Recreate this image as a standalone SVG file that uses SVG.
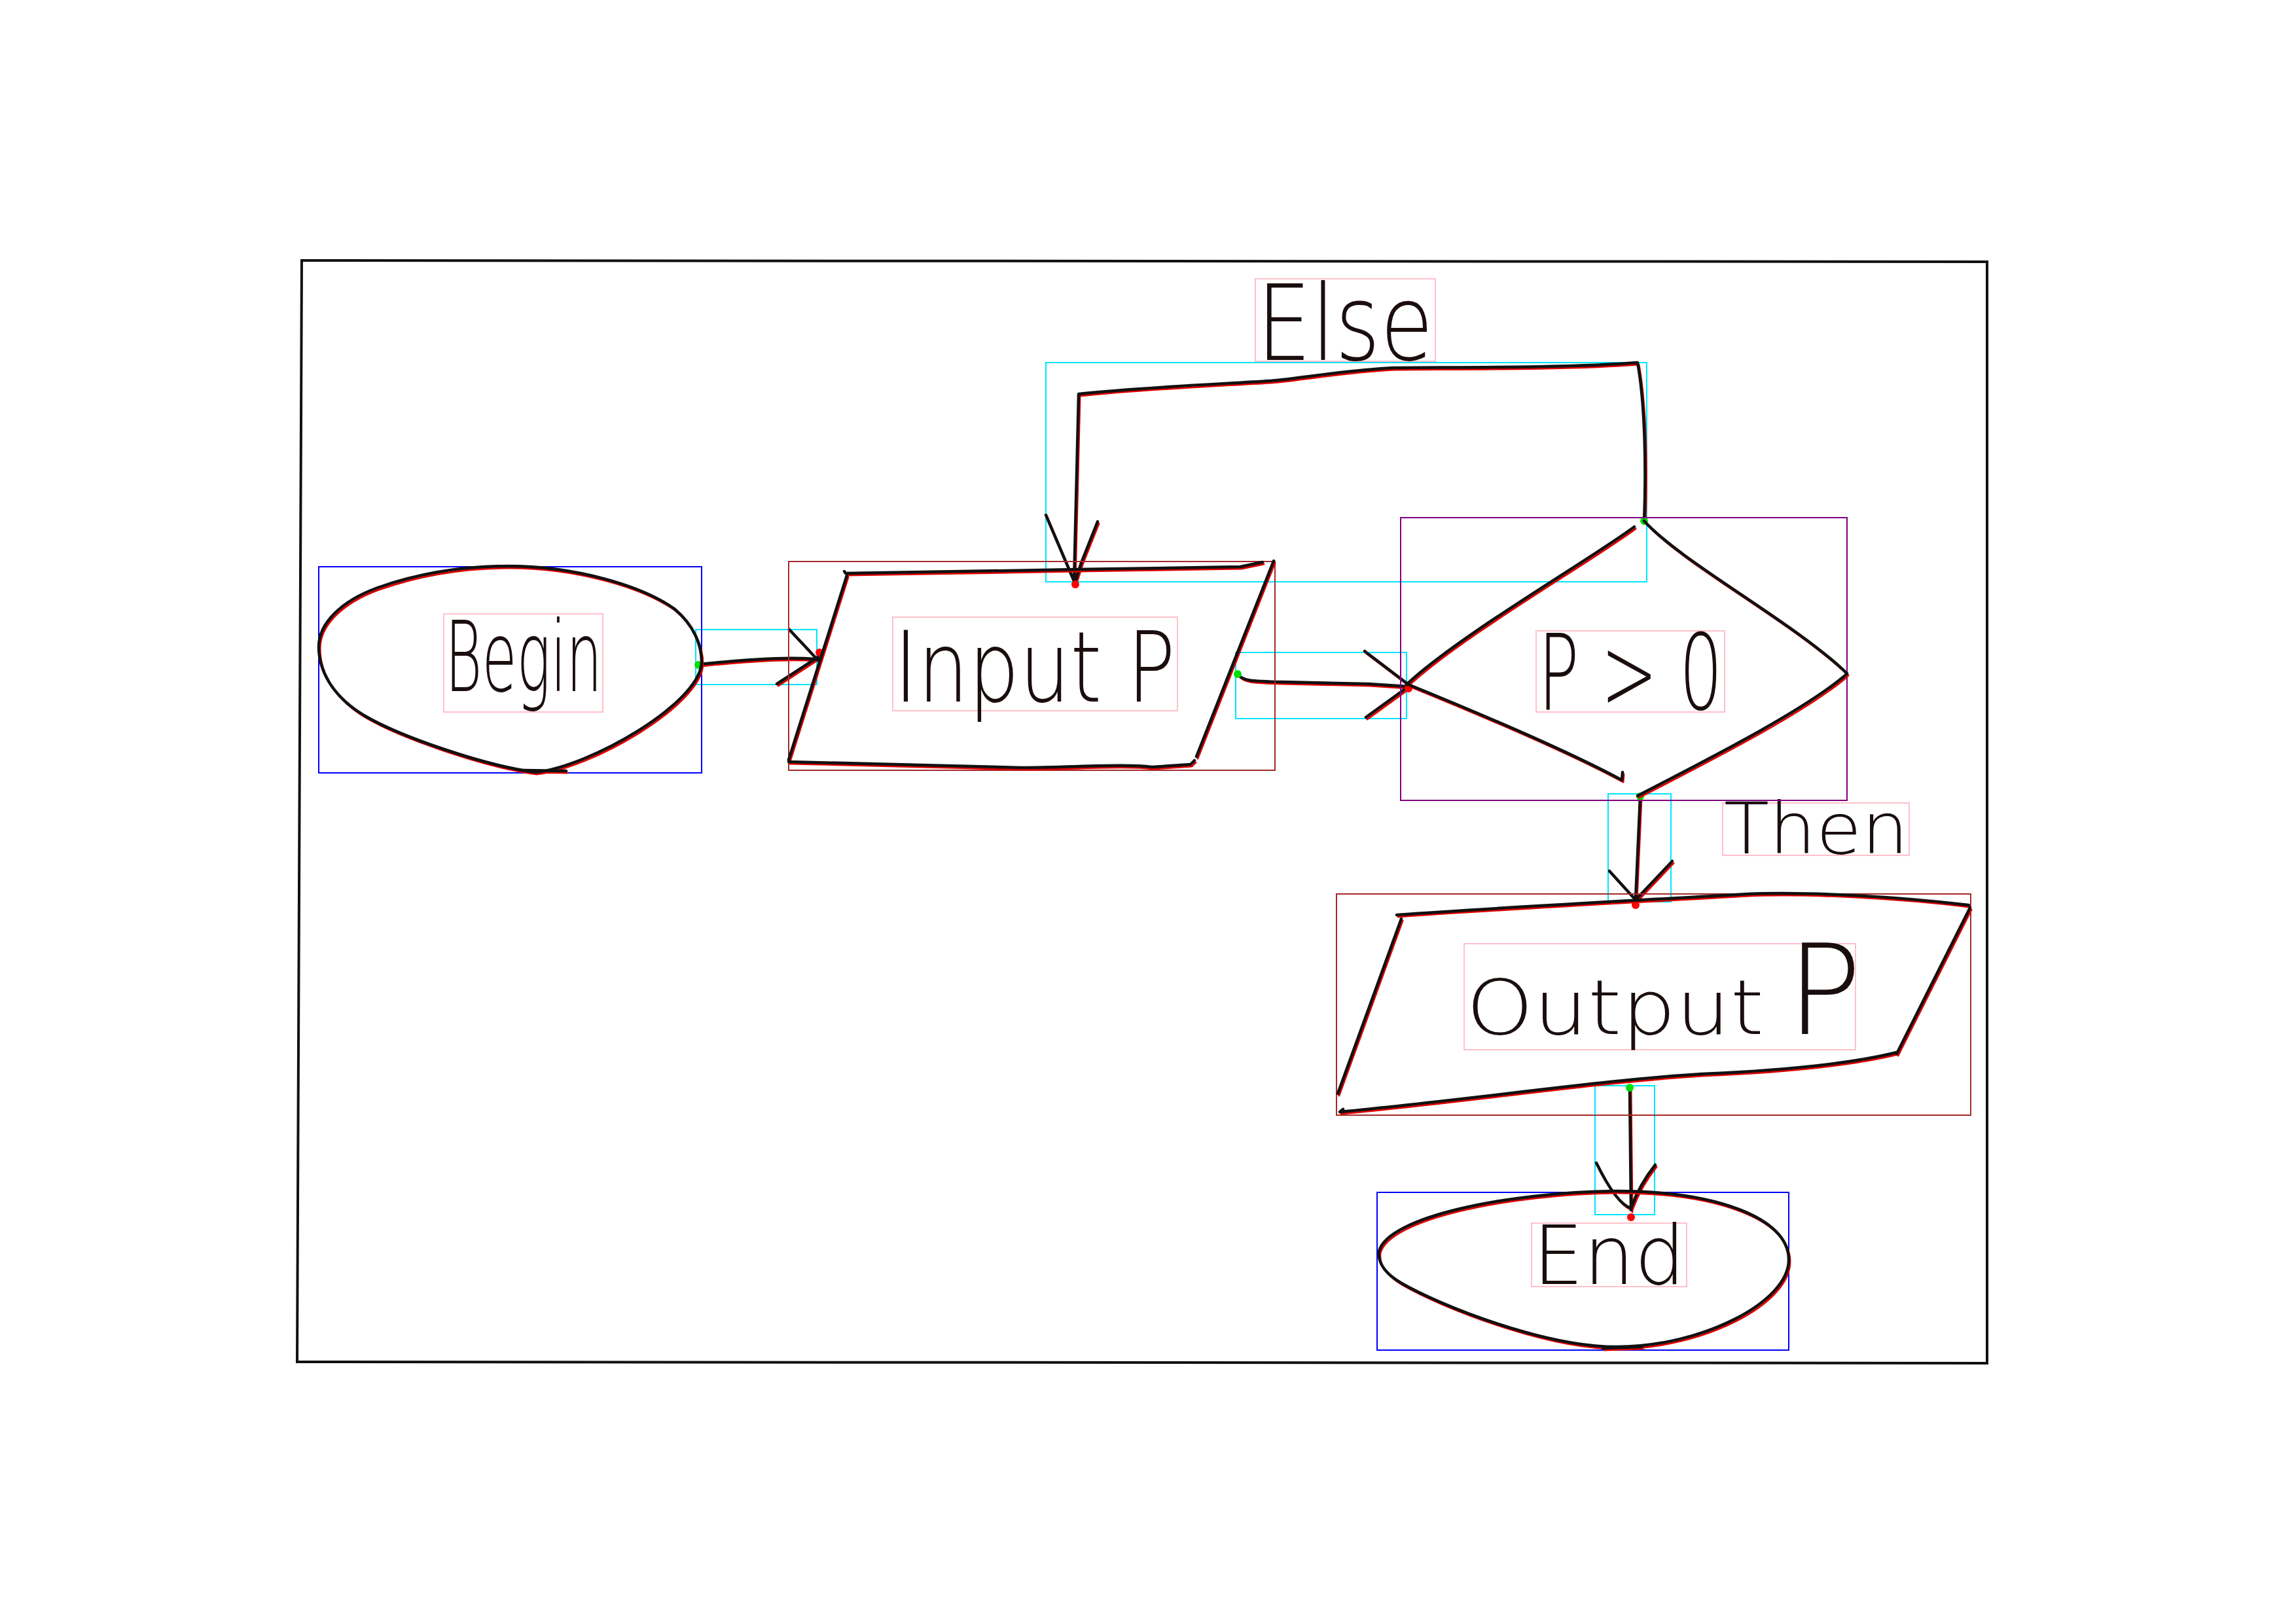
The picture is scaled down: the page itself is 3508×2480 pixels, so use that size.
<svg xmlns="http://www.w3.org/2000/svg" xmlns:xlink="http://www.w3.org/1999/xlink" width="3508" height="2480" viewBox="0 0 3508 2480">
<style>
.ink{fill:none;stroke:#111;stroke-width:4.5;stroke-linecap:round;stroke-linejoin:round}
.sh{fill:none;stroke:#e00000;stroke-width:3;stroke-linecap:round;stroke-linejoin:round}
.bx{fill:none;stroke-width:2}
.blue{stroke:#0000ff}.brn{stroke:#a52a2a}.pur{stroke:#800080}.cyn{stroke:#00e5ff}.pnk{stroke:#ffc0cb}
.lbl{font-family:"DejaVu Sans","Liberation Sans",sans-serif;font-weight:200;fill:#1a0d0d}
.gd{fill:#00e000}.rd{fill:#ff0000}
</style>
<defs>
<path id="pBegin" d="M818 1180 C740 1170 610 1125 556 1093 C505 1062 487 1022 487 988 C487 952 522 918 577 898 C640 876 710 865 776 865 C880 865 980 895 1030 930 C1060 955 1072 985 1072 1012 C1070 1075 900 1172 818 1180 M800 1177 L865 1178"/>
<path id="pInput" d="M1290 873 L1292 876 C1450 872 1700 870 1895 866 L1929 859 M1294 879 L1205 1161 M1205 1164 C1300 1166 1450 1170 1560 1173 C1650 1172 1720 1167 1760 1172 L1819 1168 L1825 1162 M1946 857 L1828 1156"/>
<path id="pDiamond" d="M2497 805 C2430 855 2230 970 2149 1046 M2512 796 C2570 860 2740 950 2822 1029 L2818 1033 C2750 1090 2600 1165 2502 1216 M2152 1046 C2260 1090 2400 1150 2478 1192 L2479 1180"/>
<path id="pOutput" d="M2134 1398 C2300 1386 2500 1376 2670 1366 C2760 1362 2900 1370 3008 1383 M3010 1387 L2898 1610 M2898 1608 C2850 1620 2760 1634 2600 1641 C2450 1650 2250 1680 2047 1699 L2052 1695 M2141 1404 L2044 1671"/>
<path id="pEnd" d="M2107 1912 C2120 1860 2300 1822 2469 1820 C2620 1820 2733 1860 2733 1925 C2733 1990 2600 2058 2469 2058 C2360 2058 2200 1995 2140 1960 C2115 1945 2105 1928 2107 1912 Z M2449 2060 L2509 2058"/>
<path id="c1" d="M1067 1015 C1120 1010 1190 1003 1245 1007 M1206 962 L1250 1009 M1187 1045 L1250 1004"/>
<path id="c2" d="M1891 1030 C1898 1040 1910 1041 1960 1042 L2091 1045 L2152 1049 M2085 995 L2152 1046 M2087 1096 L2145 1054"/>
<path id="c3" d="M2512 796 C2515 720 2514 620 2502 554 C2400 562 2250 561 2130 562 C2050 566 1990 578 1940 582 C1860 587 1740 592 1648 602 L1641 889 M1598 787 L1641 888 M1677 797 L1652 860 L1643 888"/>
<path id="c4" d="M2506 1217 L2499 1374 M2459 1331 L2499 1375 L2555 1316"/>
<path id="c5" d="M2490 1662 L2492 1849 M2439 1777 Q2470 1840 2492 1846 Q2505 1810 2529 1780"/>
</defs>
<rect width="3508" height="2480" fill="#ffffff"/>
<path d="M461 398 L3036 400 L3036 2083 L454 2081 Z" fill="none" stroke="#111" stroke-width="4"/>

<g id="connectors">
<g id="begin-input">
<rect class="bx cyn" x="1063" y="962" width="185" height="84"/>
<use href="#c1" class="sh" transform="translate(2,3)"/><use href="#c1" class="ink"/>
<circle class="gd" cx="1067" cy="1016" r="6"/><circle class="rd" cx="1252" cy="997" r="6"/>
</g>
<g id="input-decision">
<rect class="bx cyn" x="1888" y="997" width="261" height="101"/>
<use href="#c2" class="sh" transform="translate(2,3)"/><use href="#c2" class="ink"/>
<circle class="gd" cx="1891" cy="1030" r="6"/><circle class="rd" cx="2152" cy="1052" r="6"/>
</g>
<g id="decision-input-else">
<rect class="bx cyn" x="1598" y="554" width="918" height="335"/>
<use href="#c3" class="sh" transform="translate(2,3)"/><use href="#c3" class="ink"/>
<circle class="gd" cx="2512" cy="796" r="6"/><circle class="rd" cx="1643" cy="893" r="6"/>
<rect class="bx pnk" x="1918" y="426" width="275" height="126"/>
<text class="lbl" x="1920" y="550" font-size="160" textLength="270" lengthAdjust="spacingAndGlyphs">Else</text>
</g>
<g id="decision-output-then">
<rect class="bx cyn" x="2457" y="1213" width="96" height="165"/>
<use href="#c4" class="sh" transform="translate(2,3)"/><use href="#c4" class="ink"/>
<circle class="gd" cx="2506" cy="1217" r="6"/><circle class="rd" cx="2499" cy="1383" r="6"/>
<rect class="bx pnk" x="2632" y="1227" width="285" height="80"/>
<text class="lbl" x="2634" y="1304" font-size="108" textLength="282" lengthAdjust="spacingAndGlyphs">Then</text>
</g>
<g id="output-end">
<rect class="bx cyn" x="2437" y="1659" width="91" height="197"/>
<use href="#c5" class="sh" transform="translate(2,3)"/><use href="#c5" class="ink"/>
<circle class="gd" cx="2490" cy="1662" r="6"/><circle class="rd" cx="2492" cy="1860" r="6"/>
</g>
</g>

<g id="begin">
<rect class="bx blue" x="487" y="866" width="585" height="315"/>
<use href="#pBegin" class="sh" transform="translate(2,3)"/><use href="#pBegin" class="ink"/>
<rect class="bx pnk" x="678" y="938" width="243" height="150"/>
<text class="lbl" x="680" y="1056" font-size="150" textLength="240" lengthAdjust="spacingAndGlyphs">Begin</text>
</g>

<g id="input">
<rect class="bx brn" x="1205" y="858" width="743" height="319"/>
<use href="#pInput" class="sh" transform="translate(2,3)"/><use href="#pInput" class="ink"/>
<rect class="bx pnk" x="1364" y="943" width="435" height="143"/>
<text class="lbl" x="1366" y="1072" font-size="150" textLength="430" lengthAdjust="spacingAndGlyphs">Input P</text>
</g>

<g id="decision">
<rect class="bx pur" x="2140" y="791" width="682" height="432"/>
<use href="#pDiamond" class="sh" transform="translate(2,3)"/><use href="#pDiamond" class="ink"/>
<rect class="bx pnk" x="2347" y="964" width="288" height="124"/>
<text class="lbl" x="2350" y="1084" font-size="160" textLength="282" lengthAdjust="spacingAndGlyphs">P &gt; 0</text>
</g>

<g id="output">
<rect class="bx brn" x="2042" y="1366" width="969" height="338"/>
<use href="#pOutput" class="sh" transform="translate(2,3)"/><use href="#pOutput" class="ink"/>
<rect class="bx pnk" x="2237" y="1442" width="598" height="162"/>
<text class="lbl" x="2240" y="1580" font-size="115"><tspan textLength="455" lengthAdjust="spacingAndGlyphs">Output</tspan> <tspan x="2730" font-size="190">P</tspan></text>
</g>

<g id="end">
<rect class="bx blue" x="2104" y="1822" width="629" height="241"/>
<use href="#pEnd" class="sh" transform="translate(2,3)"/><use href="#pEnd" class="ink"/>
<rect class="bx pnk" x="2340" y="1869" width="237" height="97"/>
<text class="lbl" x="2342" y="1962" font-size="125" textLength="233" lengthAdjust="spacingAndGlyphs">End</text>
</g>
</svg>
